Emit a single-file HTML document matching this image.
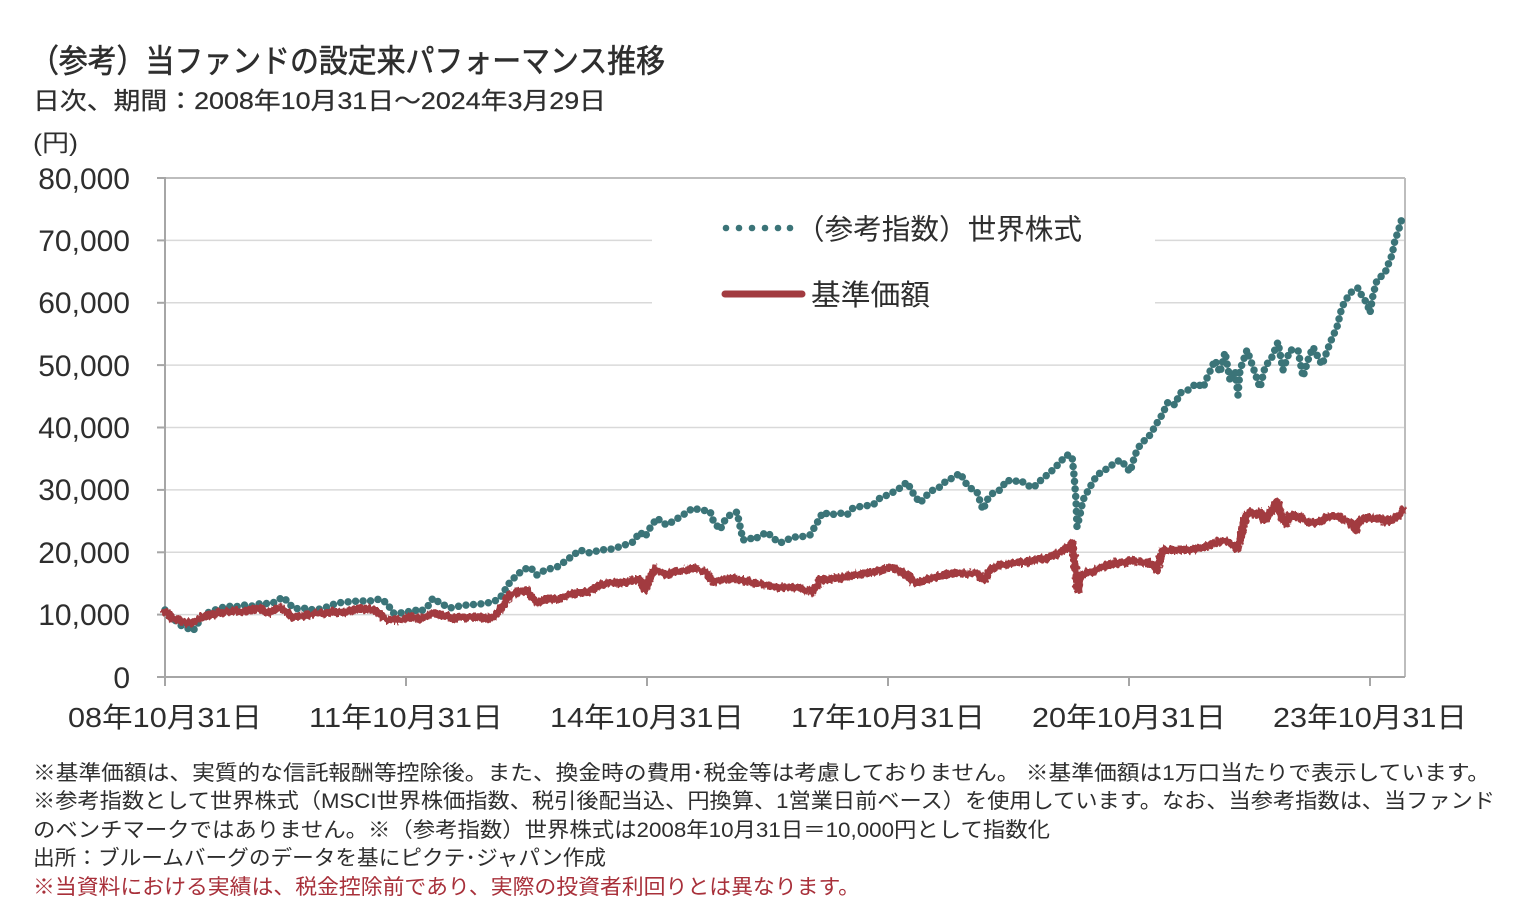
<!DOCTYPE html>
<html><head><meta charset="utf-8">
<style>
html,body{margin:0;padding:0;background:#fff;}
svg{display:block;}
text{font-family:"Liberation Sans","Noto Sans CJK JP",sans-serif;fill:#2e2e2e;}
</style></head>
<body>
<svg width="1526" height="920" viewBox="0 0 1526 920" xmlns="http://www.w3.org/2000/svg">
<defs>
<filter id="jit" x="-5%" y="-20%" width="110%" height="140%">
<feTurbulence type="fractalNoise" baseFrequency="0.35 0.2" numOctaves="2" seed="3" result="n"/>
<feDisplacementMap in="SourceGraphic" in2="n" scale="6" xChannelSelector="R" yChannelSelector="G"/>
</filter>
</defs>
<rect width="1526" height="920" fill="#fff"/>
<!-- titles -->
<text x="30" y="72" font-size="32" textLength="635" lengthAdjust="spacingAndGlyphs" style="stroke:#2e2e2e;stroke-width:0.6">（参考）当ファンドの設定来パフォーマンス推移</text>
<text x="33" y="109" font-size="24" textLength="573" lengthAdjust="spacingAndGlyphs" style="stroke:#2e2e2e;stroke-width:0.25">日次、期間：2008年10月31日～2024年3月29日</text>
<text x="33" y="151" font-size="24" textLength="45" lengthAdjust="spacingAndGlyphs">(円)</text>

<!-- gridlines -->
<g stroke="#d9d9d9" stroke-width="1.5">
<line x1="165" y1="240.4" x2="1404" y2="240.4"/>
<line x1="165" y1="302.8" x2="1404" y2="302.8"/>
<line x1="165" y1="365.1" x2="1404" y2="365.1"/>
<line x1="165" y1="427.5" x2="1404" y2="427.5"/>
<line x1="165" y1="489.9" x2="1404" y2="489.9"/>
<line x1="165" y1="552.3" x2="1404" y2="552.3"/>
<line x1="165" y1="614.6" x2="1404" y2="614.6"/>
</g>
<!-- frame -->
<g stroke="#bdbdbd" stroke-width="2" fill="none">
<line x1="165" y1="178" x2="1405" y2="178"/>
<line x1="1405" y1="178" x2="1405" y2="677"/>
</g>
<g stroke="#a6a6a6" stroke-width="2" fill="none">
<line x1="165" y1="177" x2="165" y2="678"/>
<line x1="157" y1="677" x2="1405" y2="677"/>
<line x1="157" y1="178" x2="165" y2="178"/>
<line x1="157" y1="240.4" x2="165" y2="240.4"/>
<line x1="157" y1="302.8" x2="165" y2="302.8"/>
<line x1="157" y1="365.1" x2="165" y2="365.1"/>
<line x1="157" y1="427.5" x2="165" y2="427.5"/>
<line x1="157" y1="489.9" x2="165" y2="489.9"/>
<line x1="157" y1="552.3" x2="165" y2="552.3"/>
<line x1="157" y1="614.6" x2="165" y2="614.6"/>
<line x1="165" y1="677" x2="165" y2="686"/>
<line x1="406" y1="677" x2="406" y2="686"/>
<line x1="647" y1="677" x2="647" y2="686"/>
<line x1="888" y1="677" x2="888" y2="686"/>
<line x1="1129" y1="677" x2="1129" y2="686"/>
<line x1="1370" y1="677" x2="1370" y2="686"/>
</g>

<!-- y labels -->
<g font-size="30" text-anchor="end" style="fill:#404040">
<text x="130" y="189">80,000</text>
<text x="130" y="251">70,000</text>
<text x="130" y="313">60,000</text>
<text x="130" y="376">50,000</text>
<text x="130" y="438">40,000</text>
<text x="130" y="500">30,000</text>
<text x="130" y="563">20,000</text>
<text x="130" y="625">10,000</text>
<text x="130" y="688">0</text>
</g>
<!-- x labels -->
<g font-size="28" text-anchor="middle" style="fill:#404040">
<text x="165" y="727" textLength="194" lengthAdjust="spacingAndGlyphs">08年10月31日</text>
<text x="406" y="727" textLength="194" lengthAdjust="spacingAndGlyphs">11年10月31日</text>
<text x="647" y="727" textLength="194" lengthAdjust="spacingAndGlyphs">14年10月31日</text>
<text x="888" y="727" textLength="194" lengthAdjust="spacingAndGlyphs">17年10月31日</text>
<text x="1129" y="727" textLength="194" lengthAdjust="spacingAndGlyphs">20年10月31日</text>
<text x="1370" y="727" textLength="194" lengthAdjust="spacingAndGlyphs">23年10月31日</text>
</g>

<!-- legend box -->
<rect x="652" y="205" width="503" height="115" fill="#fff"/>
<g fill="#3b7478">
<circle cx="726" cy="228" r="3.3"/>
<circle cx="739" cy="228" r="3.3"/>
<circle cx="752" cy="228" r="3.3"/>
<circle cx="765" cy="228" r="3.3"/>
<circle cx="778" cy="228" r="3.3"/>
<circle cx="790" cy="228" r="3.3"/>
</g>
<text x="796" y="239" font-size="28.5" textLength="286" lengthAdjust="spacingAndGlyphs">（参考指数）世界株式</text>
<line x1="725" y1="294" x2="802" y2="294" stroke="#a23b40" stroke-width="7" stroke-linecap="round"/>
<text x="811" y="305" font-size="29" textLength="119" lengthAdjust="spacingAndGlyphs">基準価額</text>

<!-- teal series (dotted) -->
<polyline fill="none" stroke="#3b7478" stroke-width="7.5" stroke-linecap="round" stroke-linejoin="round" stroke-dasharray="0 7.5"
points="165,610 172,617 180,625 187,628 193,631 200,620 207,613 215,610 227,606 235,607 243,605 252,606 262,603 270,604 275,602 283,597 288,602 293,608 300,609 307,608 313,610 320,609 327,607 337,603 347,602 358,601 370,601 380,599 387,603 393,613 400,613 407,612 415,610 420,612 428,606 433,598 440,603 450,608 460,606 467,605 480,604 493,602 500,598 505,590 510,582 517,575 523,570 530,567 537,575 545,570 557,567 567,560 580,550 590,553 600,550 612,549 622,546 633,542 640,532 645,537 650,528 657,518 663,523 667,525 675,520 683,515 693,508 700,510 710,511 713,520 720,530 725,520 730,515 737,512 743,540 750,538 753,540 760,536 767,532 773,538 780,543 787,540 793,537 800,537 810,535 817,523 823,512 830,515 840,513 847,515 853,508 863,506 873,505 880,498 890,494 900,488 907,482 913,493 920,503 927,495 933,490 940,487 947,480 953,478 960,473 967,485 973,490 977,492 983,510 987,500 993,493 1000,490 1007,480 1013,482 1020,480 1027,485 1033,488 1040,481 1047,475 1055,468 1060,462 1067,455 1072,456 1074,475 1076,500 1077,527 1080,515 1083,500 1090,487 1097,475 1105,470 1112,465 1120,460 1125,465 1130,472 1135,455 1140,445 1145,440 1150,435 1157,423 1162,415 1168,402 1175,405 1180,393 1188,390 1197,383 1203,388 1207,378 1215,360 1220,373 1225,352 1230,380 1235,370 1238,395 1240,370 1247,350 1253,367 1260,388 1265,367 1272,357 1278,342 1283,370 1290,350 1298,350 1303,377 1308,360 1313,347 1322,365 1330,343 1337,327 1342,307 1350,293 1358,288 1363,298 1367,303 1370,313 1373,295 1377,280 1385,273 1388,265 1392,255 1395,240 1398,232 1403,215"/>

<!-- red series -->
<polyline fill="none" stroke="#a23b40" stroke-width="8" stroke-linecap="round" stroke-linejoin="round" filter="url(#jit)"
points="165,612 167,613 172,618 177,620 185,622 193,623 200,618 210,615 218,613 227,612 235,611 243,612 252,610 260,608 267,613 273,610 280,608 287,612 293,618 300,616 310,615 318,613 327,613 335,612 347,612 355,610 360,608 367,609 373,610 380,614 387,620 393,620 400,620 407,618 413,617 420,619 425,617 433,613 440,615 445,616 453,618 460,617 470,617 480,617 490,618 495,616 500,610 505,602 510,594 515,593 520,592 527,590 530,595 537,603 543,600 550,598 557,600 567,595 577,593 587,592 593,589 600,585 610,583 620,582 627,582 633,580 640,580 645,590 650,578 655,568 660,572 667,575 675,572 685,570 693,568 700,570 707,573 710,578 713,582 720,580 733,578 740,580 750,582 760,584 770,586 780,588 790,587 800,588 805,590 812,592 817,586 820,580 830,579 840,578 853,575 863,574 873,572 883,570 890,567 897,569 903,573 907,575 912,580 917,583 925,580 933,578 940,576 947,574 955,573 967,574 975,573 980,577 985,580 988,572 993,568 1000,565 1010,564 1020,562 1027,562 1035,560 1047,558 1055,555 1060,552 1067,548 1072,543 1074,555 1076,575 1078,590 1080,580 1083,575 1088,572 1093,572 1100,568 1107,565 1115,563 1125,562 1133,560 1140,562 1150,563 1155,566 1157,570 1160,558 1163,550 1175,550 1187,550 1195,549 1203,548 1213,544 1223,540 1230,543 1237,548 1240,540 1243,530 1245,518 1250,512 1255,515 1260,512 1263,520 1267,517 1272,510 1277,502 1280,510 1283,520 1287,523 1290,515 1295,517 1300,517 1305,520 1310,523 1315,522 1320,522 1325,518 1330,516 1335,516 1340,517 1345,520 1350,522 1353,527 1356,530 1360,520 1365,518 1370,518 1375,519 1380,518 1385,522 1390,520 1395,518 1400,515 1403,510"/>

<!-- footnotes -->
<g font-size="21">
<text x="33" y="780" textLength="1457" lengthAdjust="spacingAndGlyphs">※基準価額は、実質的な信託報酬等控除後。また、換金時の費用･税金等は考慮しておりません。 ※基準価額は1万口当たりで表示しています。</text>
<text x="33" y="808" textLength="1462" lengthAdjust="spacingAndGlyphs">※参考指数として世界株式（MSCI世界株価指数、税引後配当込、円換算、1営業日前ベース）を使用しています。なお、当参考指数は、当ファンド</text>
<text x="33" y="837" textLength="1017" lengthAdjust="spacingAndGlyphs">のベンチマークではありません。※（参考指数）世界株式は2008年10月31日＝10,000円として指数化</text>
<text x="33" y="865" textLength="573" lengthAdjust="spacingAndGlyphs">出所：ブルームバーグのデータを基にピクテ･ジャパン作成</text>
<text x="33" y="894" textLength="827" lengthAdjust="spacingAndGlyphs" style="fill:#a8303a">※当資料における実績は、税金控除前であり、実際の投資者利回りとは異なります。</text>
</g>
</svg>
</body></html>
